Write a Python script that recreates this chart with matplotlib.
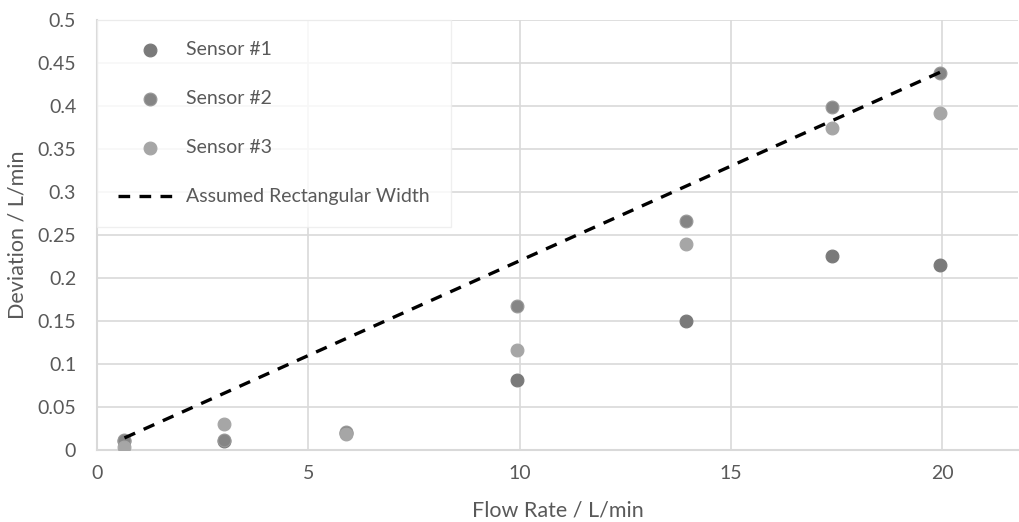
import matplotlib
matplotlib.use('Agg')
import matplotlib.pyplot as plt

# Veriler
flow = [0.65, 3.0, 5.9, 9.95, 13.95, 17.4, 19.95]
sensor1 = [0.010, 0.011, 0.020, 0.081, 0.150, 0.225, 0.215]
sensor2 = [0.012, 0.012, 0.021, 0.167, 0.266, 0.399, 0.438]
sensor3 = [0.004, 0.030, 0.019, 0.116, 0.239, 0.374, 0.392]
line_x = [0.65, 19.95]
line_y = [0.014, 0.439]

x_ticks = [0, 5, 10, 15, 20]
y_ticks = [0, 0.05, 0.1, 0.15, 0.2, 0.25, 0.3, 0.35, 0.4, 0.45, 0.5]
y_labels = ['0', '0.05', '0.1', '0.15', '0.2', '0.25', '0.3', '0.35', '0.4', '0.45', '0.5']

plt.rcParams['font.family'] = ['Lato', 'DejaVu Sans']
txt = '#595959'
grid = '#d9d9d9'

fig = plt.figure(figsize=(10.19, 5.22), dpi=100)
ax = fig.add_axes([0.0952, 0.138, 0.904, 0.824])

ax.scatter(flow, sensor1, s=85, color='#7a7a7a', edgecolors='#7a7a7a', linewidths=0.8, label='Sensor #1', zorder=3)
ax.scatter(flow, sensor2, s=85, color='#858585', edgecolors='#9a9a9a', linewidths=0.8, label='Sensor #2', zorder=3)
ax.scatter(flow, sensor3, s=85, color='#a6a6a6', edgecolors='#a6a6a6', linewidths=0.8, label='Sensor #3', zorder=3)
ax.plot(line_x, line_y, color='black', linestyle=(0, (3.5, 2.8)), linewidth=2.4,
        label='Assumed Rectangular Width', zorder=4)

ax.set_xlim(0, 21.8)
ax.set_ylim(0, 0.5)
ax.set_xticks(x_ticks)
ax.set_yticks(y_ticks)
ax.set_yticklabels(y_labels)
ax.grid(True, color=grid, linewidth=1.2)
ax.set_axisbelow(True)
for s in ['top', 'right']:
    ax.spines[s].set_visible(False)
for s in ['left', 'bottom']:
    ax.spines[s].set_color(grid)
    ax.spines[s].set_linewidth(1.5)
ax.tick_params(length=0, labelsize=14, colors=txt)
ax.tick_params(axis='x', pad=11)
ax.tick_params(axis='y', pad=15)

ax.set_xlabel('Flow Rate / L/min', fontsize=15.5, color=txt, labelpad=13)
ax.set_ylabel('Deviation / L/min', fontsize=15.5, color=txt, labelpad=7)

leg = ax.legend(loc='upper left', bbox_to_anchor=(0.0, 1.0), fontsize=14, frameon=True,
                fancybox=False, labelspacing=1.65, borderpad=1.1, handlelength=3.2,
                handletextpad=0.3, borderaxespad=0.0)
leg.get_frame().set_edgecolor('#ececec')
leg.get_frame().set_linewidth(1)
for t in leg.get_texts():
    t.set_color(txt)

plt.savefig('out.png', dpi=100)
